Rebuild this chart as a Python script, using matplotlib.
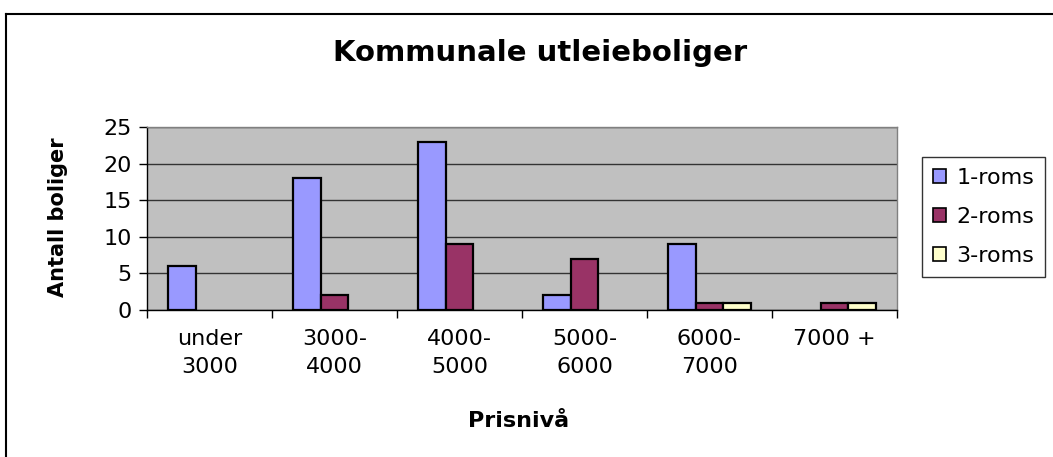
import matplotlib
matplotlib.use("Agg")
import matplotlib.pyplot as plt
import numpy as np
from matplotlib.lines import Line2D
from matplotlib.patches import Patch

plt.rcParams['font.family'] = ['DejaVu Sans']

categories = ["under\n3000", "3000-\n4000", "4000-\n5000", "5000-\n6000", "6000-\n7000", "7000 +"]
series_names = ["1-roms", "2-roms", "3-roms"]
rom1 = [6, 18, 23, 2, 9, 0]
rom2 = [0, 2, 9, 7, 1, 1]
rom3 = [0, 0, 0, 0, 1, 1]
colors = ["#9999FF", "#993366", "#FFFFCC"]

W, H = 1053, 457
fig = plt.figure(figsize=(W/100, H/100), dpi=100)

# chart area border (top & left visible)
fig.add_artist(Line2D([5.5/W, 5.5/W], [0, 1-14/H], transform=fig.transFigure, color='black', lw=1.5))
fig.add_artist(Line2D([5.5/W, 1], [1-14/H, 1-14/H], transform=fig.transFigure, color='black', lw=1.5))

left, right, top, bottom = 147, 897, 127, 310
ax = fig.add_axes([left/W, 1-bottom/H, (right-left)/W, (bottom-top)/H])
ax.set_facecolor('#C0C0C0')

x = np.arange(len(categories))
bw = 1/4.5
for i, (vals, c, name) in enumerate(zip([rom1, rom2, rom3], colors, series_names)):
    edges = ['black' if v != 0 else 'none' for v in vals]
    ax.bar(x + (i-1)*bw, vals, width=bw, color=c, edgecolor=edges, linewidth=1.6, zorder=3)

ax.set_xlim(-0.5, len(categories)-0.5)
ax.set_ylim(0, 25)
ax.set_yticks([0, 5, 10, 15, 20, 25])
ax.yaxis.grid(True, color='#333333', linewidth=1, zorder=0)
ax.set_axisbelow(True)
ax.set_xticks(np.arange(-0.5, len(categories)+0.5, 1))
ax.set_xticklabels([])
ax.set_xticks(x, minor=True)
ax.set_xticklabels(categories, minor=True, fontsize=16, linespacing=1.45)
ax.tick_params(axis='x', which='minor', length=0, pad=14)
ax.tick_params(axis='x', which='major', length=6, direction='out', width=1)
ax.tick_params(axis='y', length=6, direction='out', width=1, labelsize=16, pad=5)

for s in ['left', 'bottom']:
    ax.spines[s].set_color('black')
    ax.spines[s].set_linewidth(1)
for s in ['top', 'right']:
    ax.spines[s].set_color('#808080')
    ax.spines[s].set_linewidth(1)

fig.text(540/W, 1-53/H, "Kommunale utleieboliger", ha='center', va='center',
         fontsize=21, fontweight='bold')
fig.text(519/W, 1-421/H, "Prisnivå", ha='center', va='center', fontsize=16, fontweight='bold')
fig.text(58/W, 1-217/H, "Antall boliger", ha='center', va='center', rotation=90,
         fontsize=15, fontweight='bold')

handles = [Patch(facecolor=c, edgecolor='black', linewidth=1.2, label=n) for c, n in zip(colors, series_names)]
leg = fig.legend(handles=handles, loc='upper left', bbox_to_anchor=(922/W, 1-157/H), frameon=True,
                 fancybox=False, edgecolor='black', fontsize=16, handlelength=0.6, handleheight=0.6,
                 handletextpad=0.45, labelspacing=0.85, borderpad=0.5, borderaxespad=0)
leg.get_frame().set_linewidth(1)

fig.savefig("out.png", dpi=100)
